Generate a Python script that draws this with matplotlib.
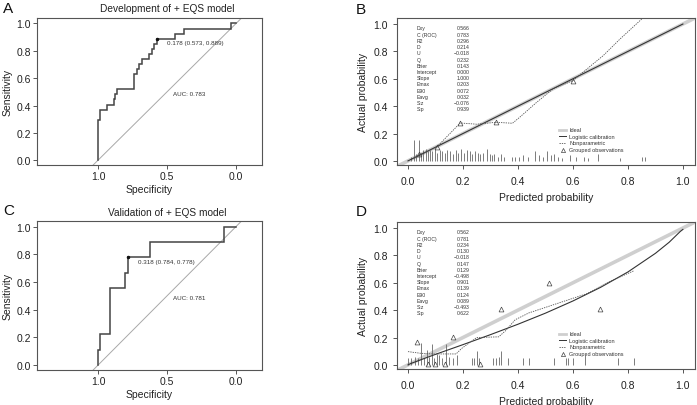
import matplotlib
matplotlib.use('Agg')
import matplotlib.pyplot as plt

plt.rcParams['font.family'] = ['Liberation Sans', 'DejaVu Sans']

# ---------------- data ----------------
# Panel A ROC (development)
spec_A = [1.0, 1.0, 0.986, 0.986, 0.932, 0.932, 0.884, 0.884, 0.877, 0.877, 0.86, 0.86,
          0.737, 0.737, 0.72, 0.72, 0.70, 0.70, 0.684, 0.684, 0.63, 0.63, 0.611, 0.611,
          0.594, 0.594, 0.573, 0.573, 0.442, 0.442, 0.377, 0.377, 0.035, 0.035, 0.0]
sens_A = [0.0, 0.296, 0.296, 0.370, 0.370, 0.407, 0.407, 0.444, 0.444, 0.481, 0.481, 0.519,
          0.519, 0.630, 0.630, 0.667, 0.667, 0.704, 0.704, 0.741, 0.741, 0.778, 0.778, 0.815,
          0.815, 0.852, 0.852, 0.889, 0.889, 0.926, 0.926, 0.963, 0.963, 1.0, 1.0]
cut_A = (0.573, 0.889)
cut_A_label = "0.178 (0.573, 0.889)"
auc_A_label = "AUC: 0.783"
title_A = "Development of + EQS model"

# Panel C ROC (validation)
spec_C = [1.0, 1.0, 0.983, 0.983, 0.916, 0.916, 0.807, 0.807, 0.784, 0.784, 0.62, 0.62, 0.088, 0.088, 0.0]
sens_C = [0.0, 0.111, 0.111, 0.222, 0.222, 0.556, 0.556, 0.667, 0.667, 0.778, 0.778, 0.889, 0.889, 1.0, 1.0]
cut_C = (0.784, 0.778)
cut_C_label = "0.318 (0.784, 0.778)"
auc_C_label = "AUC: 0.781"
title_C = "Validation of + EQS model"

# Calibration stats
stat_names = ["Dxy", "C (ROC)", "R2", "D", "U", "Q", "Brier", "Intercept", "Slope",
              "Emax", "E90", "Eavg", "S:z", "S:p"]
stat_B = ["0.566", "0.783", "0.296", "0.214", "\u22120.018", "0.232", "0.143", "0.000", "1.000",
          "0.203", "0.072", "0.032", "\u22120.076", "0.939"]
stat_D = ["0.562", "0.781", "0.234", "0.130", "\u22120.018", "0.147", "0.129", "\u22120.498", "0.901",
          "0.139", "0.124", "0.089", "\u22120.493", "0.622"]

# Panel B calibration
logit_B_x = [0.0, 1.0]
logit_B_y = [0.0, 1.0]
np_B_x = [0.02, 0.04, 0.104, 0.19, 0.25, 0.32, 0.38, 0.407, 0.468, 0.528, 0.599, 0.71, 0.771, 0.85]
np_B_y = [0.02, 0.04, 0.10, 0.277, 0.268, 0.282, 0.275, 0.32, 0.428, 0.526, 0.586, 0.769, 0.89, 1.036]
grp_B_x = [0.04, 0.104, 0.19, 0.32, 0.60]
grp_B_y = [0.05, 0.10, 0.28, 0.285, 0.585]
rug_B_x = [0.010, 0.022, 0.030, 0.040, 0.048, 0.056, 0.064, 0.072, 0.080, 0.088, 0.097, 0.106,
           0.116, 0.125, 0.134, 0.143, 0.153, 0.164, 0.174, 0.183, 0.193, 0.203, 0.214, 0.224,
           0.233, 0.243, 0.253, 0.262, 0.274, 0.288, 0.297, 0.305, 0.314, 0.326, 0.338, 0.350,
           0.377, 0.390, 0.402, 0.420, 0.438, 0.462, 0.475, 0.490, 0.504, 0.520, 0.530, 0.545,
           0.560, 0.589, 0.610, 0.640, 0.655, 0.692, 0.771, 0.850, 0.862]
rug_B_h = [0.03, 0.15, 0.05, 0.15, 0.06, 0.08, 0.09, 0.07, 0.08, 0.07, 0.09, 0.06,
           0.08, 0.07, 0.06, 0.08, 0.07, 0.05, 0.08, 0.06, 0.09, 0.06, 0.08, 0.07,
           0.05, 0.07, 0.06, 0.05, 0.06, 0.088, 0.05, 0.04, 0.05, 0.03, 0.05, 0.03,
           0.03, 0.03, 0.03, 0.04, 0.03, 0.07, 0.04, 0.03, 0.07, 0.04, 0.05, 0.03,
           0.02, 0.04, 0.03, 0.03, 0.02, 0.05, 0.02, 0.03, 0.03]

# Panel D calibration
logit_D_x = [0.0, 0.01, 0.05, 0.1, 0.2, 0.3, 0.4, 0.5, 0.6, 0.7, 0.8, 0.9, 0.95, 0.99, 1.0]
logit_D_y = [0.0, 0.01, 0.04, 0.077, 0.148, 0.221, 0.297, 0.378, 0.467, 0.566, 0.679, 0.815, 0.896, 0.974, 0.99]
np_D_x = [0.0, 0.045, 0.09, 0.175, 0.195, 0.25, 0.33, 0.355, 0.39, 0.44, 0.53, 0.65, 0.735, 0.82]
np_D_y = [0.097, 0.085, 0.08, 0.08, 0.12, 0.20, 0.205, 0.25, 0.33, 0.38, 0.44, 0.52, 0.61, 0.686]
grp_D_x = [0.032, 0.072, 0.10, 0.134, 0.165, 0.262, 0.34, 0.514, 0.698]
grp_D_y = [0.17, 0.005, 0.005, 0.005, 0.207, 0.005, 0.407, 0.60, 0.407]
rug_D_x = [0.001, 0.012, 0.024, 0.035, 0.047, 0.058, 0.068, 0.077, 0.086, 0.094, 0.104, 0.113,
           0.123, 0.140, 0.150, 0.162, 0.180, 0.232, 0.241, 0.250, 0.260, 0.310, 0.320, 0.330,
           0.340, 0.362, 0.420, 0.440, 0.532, 0.573, 0.583, 0.601, 0.644, 0.765, 0.823]
rug_D_h = [0.05, 0.05, 0.06, 0.05, 0.16, 0.05, 0.11, 0.06, 0.155, 0.05, 0.08, 0.07,
           0.05, 0.155, 0.06, 0.05, 0.07, 0.05, 0.05, 0.10, 0.05, 0.05, 0.05, 0.06,
           0.10, 0.05, 0.05, 0.05, 0.05, 0.05, 0.05, 0.05, 0.07, 0.05, 0.05]

legend_labels = ["Ideal", "Logistic calibration", "Nonparametric", "Grouped observations"]

# ---------------- figure ----------------
W, H = 697, 406
fig = plt.figure(figsize=(W / 100, H / 100), dpi=100)


def rect(l, t, r, b):
    return [l / W, 1 - b / H, (r - l) / W, (b - t) / H]


SPINE = '#555555'
TXT = '#222222'


def style(ax):
    for s in ax.spines.values():
        s.set_color(SPINE)
        s.set_linewidth(0.8)
    ax.tick_params(direction='out', length=3, width=0.7, color=SPINE,
                   labelsize=7.5, labelcolor=TXT)


def roc_panel(ax, spec, sens, cut, cut_label, auc_label, title, letter, ypx, title_ypx):
    ax.set_xlim(1.442, -0.188)
    ax.set_ylim(-0.035, 1.04)
    ax.axline((1, 0), (0, 1), color='#a8a8a8', lw=0.7)
    ax.plot(spec, sens, color='#444444', lw=1.1, solid_joinstyle='miter')
    ax.plot([cut[0]], [cut[1]], 'o', color='#111111', ms=1.5)
    ax.text(cut[0] - 0.073, cut[1] - 0.027, cut_label, fontsize=4.5, color='#333333',
            ha='left', va='center')
    ax.text(0.34, 0.485, auc_label, fontsize=4.5, color='#333333', ha='center', va='center')
    ax.set_xticks([1.0, 0.5, 0.0])
    ax.set_xticklabels(['1.0', '0.5', '0.0'])
    ax.set_yticks([0, 0.2, 0.4, 0.6, 0.8, 1.0])
    ax.set_yticklabels(['0.0', '0.2', '0.4', '0.6', '0.8', '1.0'])
    style(ax)
    ax.tick_params(axis='x', pad=1.5)
    ax.tick_params(axis='y', pad=1.5)
    ax.set_xlabel('Specificity', fontsize=7.5, color=TXT, labelpad=2)
    ax.set_ylabel('Sensitivity', fontsize=7.5, color=TXT, labelpad=3)
    fig.text(167 / W, 1 - title_ypx / H, title, fontsize=7.3, color=TXT,
             ha='center', va='center')
    fig.text(3 / W, 1 - ypx / H, letter, fontsize=11, color='#111111', ha='left', va='center')


def cal_panel(ax, lx, ly, nx, ny, gx, gy, rx, rh, stats, letter, ypx):
    ax.set_xlim(-0.04, 1.044)
    ax.set_ylim(-0.03, 1.044)
    ax.axline((0, 0), (1, 1), color='#cfcfcf', lw=2.6, zorder=1)
    ax.plot(lx, ly, color='#333333', lw=0.8, zorder=3)
    ax.plot(nx, ny, color='#555555', lw=0.6, ls=(0, (1.6, 1.2)), zorder=3)
    ax.plot(gx, gy, ls='none', marker='^', ms=3.5, mfc='none', mec='#444444', mew=0.5, zorder=4)
    ax.vlines(rx, 0, rh, color='#666666', lw=0.6, zorder=2)
    ticks = [0, 0.2, 0.4, 0.6, 0.8, 1.0]
    tl = ['0.0', '0.2', '0.4', '0.6', '0.8', '1.0']
    ax.set_xticks(ticks)
    ax.set_xticklabels(tl)
    ax.set_yticks(ticks)
    ax.set_yticklabels(tl)
    style(ax)
    ax.tick_params(axis='x', pad=5)
    ax.tick_params(axis='y', pad=3.5)
    ax.set_xlabel('Predicted probability', fontsize=7.5, color=TXT, labelpad=4)
    ax.set_ylabel('Actual probability', fontsize=7.5, color=TXT, labelpad=4)
    # stats
    n = len(stat_names)
    y0, y1 = 0.933, 0.382
    for i in range(n):
        y = y0 - (y0 - y1) * i / (n - 1)
        ax.text(0.067, y, stat_names[i], transform=ax.transAxes, fontsize=3.7,
                color='#333333', ha='left', va='center')
        ax.text(0.243, y, stats[i], transform=ax.transAxes, fontsize=3.7,
                color='#333333', ha='right', va='center')
    # legend
    ys = [0.240, 0.195, 0.150, 0.105]
    hx0, hx1, tx = 0.545, 0.568, 0.578
    ax.plot([hx0, hx1], [ys[0], ys[0]], transform=ax.transAxes, color='#cfcfcf', lw=2.0)
    ax.plot([hx0, hx1], [ys[1], ys[1]], transform=ax.transAxes, color='#333333', lw=0.7)
    ax.plot([hx0, hx1], [ys[2], ys[2]], transform=ax.transAxes, color='#555555', lw=0.6,
            ls=(0, (1.6, 1.2)))
    ax.plot([(hx0 + hx1) / 2], [ys[3]], transform=ax.transAxes, ls='none', marker='^', ms=3,
            mfc='none', mec='#444444', mew=0.5)
    for y, lab in zip(ys, legend_labels):
        ax.text(tx, y, lab, transform=ax.transAxes, fontsize=4, color='#333333',
                ha='left', va='center')
    fig.text(356 / W, 1 - ypx / H, letter, fontsize=11, color='#111111', ha='left', va='center')


axA = fig.add_axes(rect(37, 19, 262, 166))
roc_panel(axA, spec_A, sens_A, cut_A, cut_A_label, auc_A_label, title_A, 'A', 9, 9)
axC = fig.add_axes(rect(37, 222, 262, 371))
roc_panel(axC, spec_C, sens_C, cut_C, cut_C_label, auc_C_label, title_C, 'C', 211, 213)

axB = fig.add_axes(rect(397, 19, 695, 166))
cal_panel(axB, logit_B_x, logit_B_y, np_B_x, np_B_y, grp_B_x, grp_B_y, rug_B_x, rug_B_h,
          stat_B, 'B', 10)
axD = fig.add_axes(rect(397, 223, 695, 370))
cal_panel(axD, logit_D_x, logit_D_y, np_D_x, np_D_y, grp_D_x, grp_D_y, rug_D_x, rug_D_h,
          stat_D, 'D', 212)

fig.savefig('out.png', dpi=100)
